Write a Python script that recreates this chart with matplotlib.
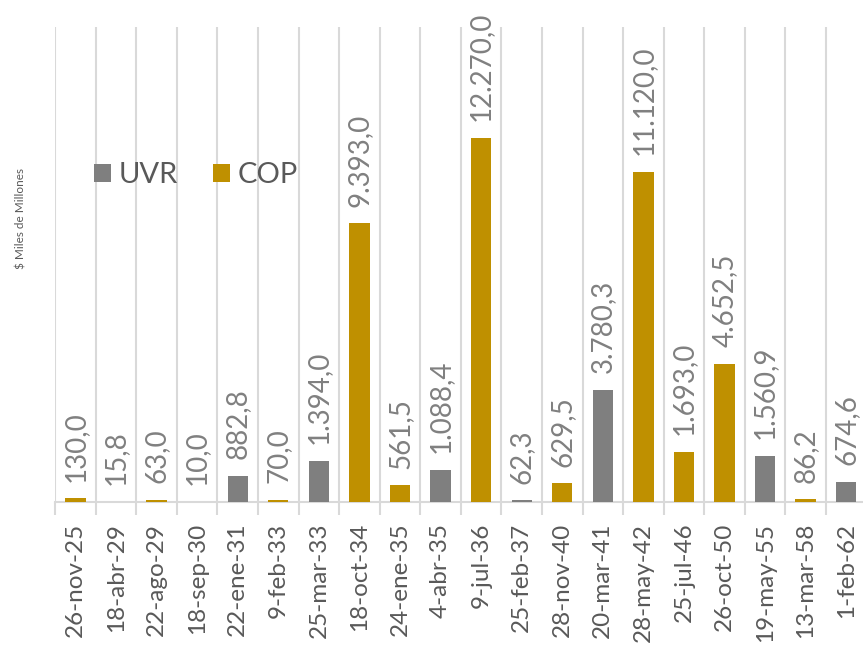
import matplotlib.pyplot as plt
import numpy as np

# fechas de vencimiento y montos ($ miles de millones)
fechas = ["26-nov-25", "18-abr-29", "22-ago-29", "18-sep-30", "22-ene-31",
          "9-feb-33", "25-mar-33", "18-oct-34", "24-ene-35", "4-abr-35",
          "9-jul-36", "25-feb-37", "28-nov-40", "20-mar-41", "28-may-42",
          "25-jul-46", "26-oct-50", "19-may-55", "13-mar-58", "1-feb-62"]
montos = [130.0, 15.8, 63.0, 10.0, 882.8, 70.0, 1394.0, 9393.0, 561.5, 1088.4,
          12270.0, 62.3, 629.5, 3780.3, 11120.0, 1693.0, 4652.5, 1560.9, 86.2, 674.6]
moneda = ["COP", "UVR", "COP", "UVR", "UVR", "COP", "UVR", "COP", "COP", "UVR",
          "COP", "UVR", "COP", "UVR", "COP", "COP", "COP", "UVR", "COP", "UVR"]

colores = {"UVR": "#7f7f7f", "COP": "#bf9000"}

plt.rcParams['font.family'] = ['Lato', 'DejaVu Sans']

fig = plt.figure(figsize=(8.63, 6.61), dpi=100)
ax = fig.add_axes([0.064, 0.2405, 0.94, 0.7185])

x = np.arange(len(fechas))
for serie in ["UVR", "COP"]:
    idx = [i for i, m in enumerate(moneda) if m == serie]
    ax.bar(x[idx], [montos[i] for i in idx], width=0.5, color=colores[serie],
           label=serie, zorder=3)

# etiquetas de datos
for xi, v in zip(x, montos):
    txt = f"{v:,.1f}".replace(",", "X").replace(".", ",").replace("X", ".")
    ax.annotate(txt, (xi, v), xytext=(0, 12), textcoords="offset points",
                rotation=90, ha="center", va="bottom", fontsize=20,
                color="#808080", annotation_clip=False)

ax.set_xlim(-0.5, len(fechas) - 0.5)
ax.set_ylim(0, 16000)

# lineas verticales entre categorias
ax.set_xticks(np.arange(-0.5, len(fechas), 1.0))
ax.set_xticklabels([])
ax.tick_params(axis="x", which="major", length=9, color="#d9d9d9", width=1.5)
ax.grid(axis="x", which="major", color="#d9d9d9", linewidth=1.5, zorder=0)
ax.set_xticks(x, minor=True)
ax.set_xticklabels(fechas, minor=True, rotation=90, fontsize=17.5, color="#595959")
ax.tick_params(axis="x", which="minor", length=0, pad=15)

ax.set_yticks([])
for s in ["top", "right", "left"]:
    ax.spines[s].set_visible(False)
ax.spines["bottom"].set_color("#d9d9d9")
ax.spines["bottom"].set_linewidth(1.5)

fig.text(0.024, 0.67, "$ Miles de Millones", rotation=90, ha="center",
         va="center", fontsize=8.5, color="#595959")

ax.legend(loc="upper left", bbox_to_anchor=(0.033, 0.74), ncol=2, frameon=False,
          fontsize=21, labelcolor="#595959", handlelength=0.6, handleheight=0.6,
          handletextpad=0.25, columnspacing=1.2, borderaxespad=0)

fig.savefig("out.png", dpi=100)
